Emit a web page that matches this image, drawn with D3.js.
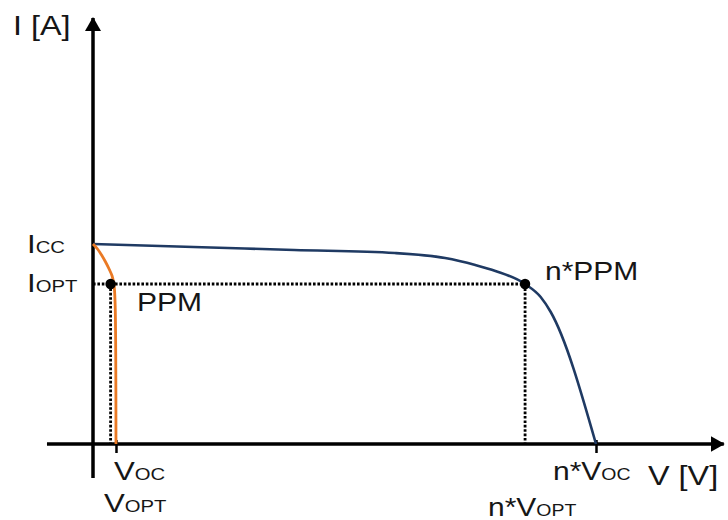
<!DOCTYPE html>
<html>
<head>
<meta charset="utf-8">
<script src="https://cdn.jsdelivr.net/npm/d3@7"></script>
<style>
  html, body { margin: 0; padding: 0; background: #fff; }
  svg { display: block; }
  text { font-family: "Liberation Sans", Arial, sans-serif; fill: #161616; }
</style>
</head>
<body>
<svg id="chart" width="728" height="520"></svg>
<script>
// I-V characteristic of a single cell (orange) and of n cells in series (blue).
// Voltage is normalised to n*Voc, current to Icc.
const arrayV = [0, 0.2, 0.4, 0.6, 0.7, 0.76, 0.8, 0.859, 0.89, 0.91, 1.0];
const arrayI = [1.0, 0.985, 0.97, 0.955, 0.93, 0.895, 0.865, 0.80, 0.735, 0.66, 0];

const cellV = [0, 0.009, 0.017, 0.025, 0.032, 0.038, 0.042, 0.044, 0.0452, 0.0457];
const cellI = [1.0, 0.975, 0.945, 0.91, 0.875, 0.84, 0.79, 0.70, 0.45, 0];

// characteristic points
const Icc = 1.0, Iopt = 0.80;
const Voc = 0.0457, Vopt = 0.035;
const nVoc = 1.0, nVopt = 0.859;

// axis extents (arrow tips)
const vAxisRange = [-0.0915, 1.256];
const iAxisRange = [-0.17, 2.135];

const svg = d3.select("#chart");
const x = d3.scaleLinear().domain([0, 1]).range([93, 596]);
const y = d3.scaleLinear().domain([0, 1]).range([444, 244]);

const defs = svg.append("defs");
defs.append("marker")
  .attr("id", "arrow")
  .attr("markerUnits", "userSpaceOnUse")
  .attr("viewBox", "0 0 14 16")
  .attr("markerWidth", 14).attr("markerHeight", 16)
  .attr("refX", 13).attr("refY", 8)
  .attr("orient", "auto")
  .append("path").attr("d", "M0,0 L14,8 L0,16 Z").attr("fill", "#000");

// ticks on the voltage axis
const xAxis = d3.axisBottom(x).tickValues([Voc, nVoc]).tickSize(9).tickSizeOuter(0).tickFormat("");
const gx = svg.append("g").attr("transform", `translate(0,${y(0)})`).call(xAxis);
gx.select(".domain").remove();
gx.selectAll(".tick line").attr("stroke", "#000").attr("stroke-width", 2.5).attr("y1", -4);

// axes with arrows
svg.append("line")
  .attr("x1", x(vAxisRange[0])).attr("x2", x(vAxisRange[1]) - 1)
  .attr("y1", y(0)).attr("y2", y(0))
  .attr("stroke", "#000").attr("stroke-width", 3.5)
  .attr("marker-end", "url(#arrow)");
svg.append("line")
  .attr("x1", x(0)).attr("x2", x(0))
  .attr("y1", y(iAxisRange[0])).attr("y2", y(iAxisRange[1]) + 1)
  .attr("stroke", "#000").attr("stroke-width", 3.5)
  .attr("marker-end", "url(#arrow)");

// dotted guides to the maximum power points
const guide = (x1, y1, x2, y2) => svg.append("line")
  .attr("x1", x(x1)).attr("y1", y(y1)).attr("x2", x(x2)).attr("y2", y(y2))
  .attr("stroke", "#000").attr("stroke-width", 2.8).attr("stroke-dasharray", "2.6,1.8");
guide(0, Iopt, nVopt, Iopt);
guide(nVopt, Iopt, nVopt, 0);
guide(Vopt, Iopt, Vopt, 0);

const line = d3.line().curve(d3.curveMonotoneX).x(d => x(d[0])).y(d => y(d[1]));
const smooth = d3.line().curve(d3.curveCatmullRom.alpha(0.5)).x(d => x(d[0])).y(d => y(d[1]));

svg.append("path")
  .datum(arrayV.map((v, i) => [v, arrayI[i]]))
  .attr("d", line).attr("fill", "none")
  .attr("stroke", "#1f3a63").attr("stroke-width", 2.6);

svg.append("path")
  .datum(cellV.map((v, i) => [v, cellI[i]]))
  .attr("d", smooth).attr("fill", "none")
  .attr("stroke", "#ea7a25").attr("stroke-width", 2.8);

// maximum power points
svg.selectAll("circle.mpp")
  .data([[Vopt, Iopt], [nVopt, Iopt]])
  .join("circle").attr("class", "mpp")
  .attr("cx", d => x(d[0])).attr("cy", d => y(d[1])).attr("r", 5.2)
  .attr("fill", "#000");

// labels: [main, subscript, x, baseline, size]
const labels = [
  ["I [A]", "", 13, 35, 27],
  ["I", "CC", 27, 253, 26],
  ["I", "OPT", 27, 292, 26],
  ["PPM", "", 137, 311, 25],
  ["n*PPM", "", 545, 280, 25],
  ["V", "OC", 114, 480, 26],
  ["V", "OPT", 104, 512, 26],
  ["n*V", "OC", 553, 480, 25],
  ["V [V]", "", 648, 485, 27],
  ["n*V", "OPT", 488, 516, 25]
];

labels.forEach(([main, sub, lx, ly, size]) => {
  const t = svg.append("text")
    .attr("transform", `translate(${lx},${ly}) scale(1.2,1)`)
    .attr("font-size", size);
  t.append("tspan").text(main);
  if (sub) t.append("tspan").attr("font-size", size * 0.65).text(sub);
});
</script>
</body>
</html>
